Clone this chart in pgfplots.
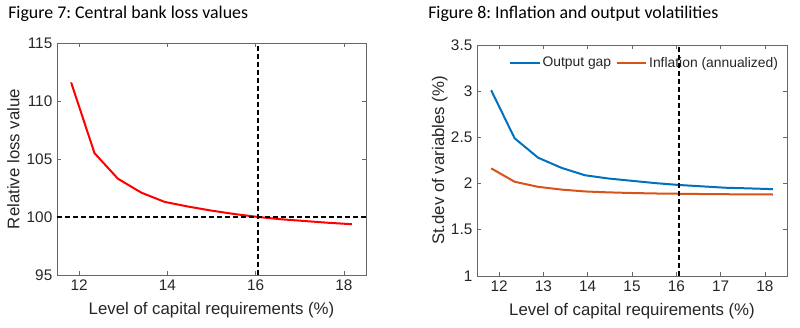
\documentclass[border=0pt]{standalone}
\usepackage{pgfplots}
\pgfplotsset{compat=1.18}
\usepackage{fontspec}
\setmainfont{Liberation Sans}
\newfontfamily\carlito{Carlito}
\frenchspacing
\definecolor{mblue}{rgb}{0,0.447,0.741}
\definecolor{morange}{rgb}{0.851,0.325,0.098}
\definecolor{axgray}{rgb}{0.15,0.15,0.15}
\pgfplotsset{
  mystyle/.style={
    scale only axis,
    anchor=south west,
    axis line style={axgray!70, line width=0.5pt},
    tick style={axgray!70, line width=0.5pt},
    major tick length=3.2pt,
    tick align=inside,
    tick pos=both,
    ticklabel style={font=\fontsize{11.5}{13}\selectfont, text=axgray},
    label style={font=\fontsize{12.6}{14}\selectfont, text=axgray},
    /pgf/number format/assume math mode=true,
    xmin=11.5, xmax=18.5,
    xlabel={Level of capital requirements (\%)},
    xlabel style={at={(axis description cs:0.5,0)}, anchor=base, yshift=-30pt},
  },
  mydash/.style={black, line width=1.3pt, dash pattern=on 3.6pt off 2.4pt},
}
\begin{document}
\begin{tikzpicture}
\path[use as bounding box] (0,0) rectangle (600pt,246pt);
\node[anchor=base west, inner sep=0pt, font=\carlito\fontsize{13.4}{15}\selectfont] at (6pt,231.75pt) {Figure 7: Central bank loss values};
\node[anchor=base west, inner sep=0pt, font=\carlito\fontsize{13.4}{15}\selectfont] at (321pt,231.75pt) {Figure 8: Inflation and output volatilities};

\begin{axis}[mystyle,
  at={(42.75pt,39.75pt)}, width=231.75pt, height=174pt,
  ymin=95, ymax=115, ytick={95,100,105,110,115},
  xtick={12,14,16,18},
  ylabel={Relative loss value},
  ylabel style={at={(axis description cs:-0.122,0.5)}, anchor=base},
]
\addplot[red, line width=1.5pt] coordinates {
(11.82,111.6) (12.35,105.5) (12.88,103.3) (13.41,102.1) (13.94,101.3)
(14.47,100.9) (15.00,100.55) (15.53,100.25) (16.06,100.0) (16.59,99.8)
(17.12,99.65) (17.65,99.5) (18.18,99.38)};
\addplot[mydash] coordinates {(16.06,95) (16.06,115)};
\addplot[mydash] coordinates {(11.5,100) (18.5,100)};
\end{axis}

\begin{axis}[mystyle,
  at={(357.75pt,39pt)}, width=232.5pt, height=173.25pt,
  ymin=1, ymax=3.5, ytick={1,1.5,2,2.5,3,3.5},
  yticklabels={1,1.5,2,2.5,3,3.5},
  xtick={12,13,14,15,16,17,18},
  ylabel={St.dev of variables (\%)},
  ylabel style={at={(axis description cs:-0.106,0.5)}, anchor=base},
  legend columns=2,
  legend style={draw=none, fill=none, font=\fontsize{10.4}{12}\selectfont, text=axgray,
    at={(axis description cs:0.978,0.922)}, anchor=east, inner sep=0pt,
    nodes={inner xsep=1.5pt},
    /tikz/every even column/.append style={column sep=2pt}},
  legend cell align=left,
  legend image code/.code={\draw[#1] (0pt,0pt) -- (22pt,0pt);},
]
\addplot[mblue, line width=1.5pt] coordinates {
(11.82,3.01) (12.35,2.49) (12.88,2.28) (13.41,2.17) (13.94,2.09)
(14.47,2.055) (15.00,2.03) (15.53,2.005) (16.06,1.985) (16.59,1.97)
(17.12,1.955) (17.65,1.948) (18.18,1.94)};
\addlegendentry{Output gap}
\addplot[morange, line width=1.5pt] coordinates {
(11.82,2.165) (12.35,2.02) (12.88,1.965) (13.41,1.935) (13.94,1.915)
(14.47,1.905) (15.00,1.898) (15.53,1.893) (16.06,1.89) (16.59,1.887)
(17.12,1.885) (17.65,1.883) (18.18,1.882)};
\addlegendentry{Inflation (annualized)}
\addplot[mydash, forget plot] coordinates {(16.06,1) (16.06,3.5)};
\end{axis}
\end{tikzpicture}
\end{document}
